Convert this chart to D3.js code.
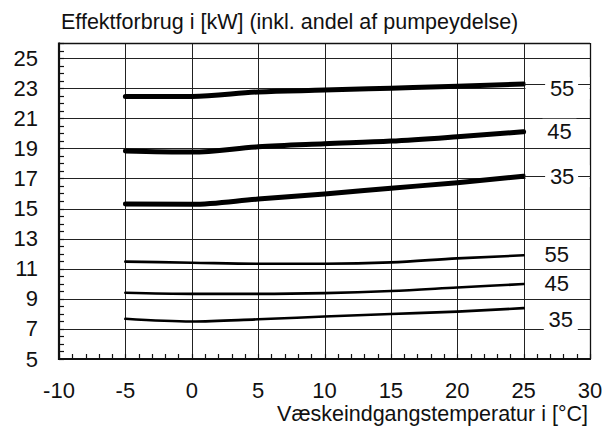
<!DOCTYPE html>
<html>
<head>
<meta charset="utf-8">
<script src="https://cdn.jsdelivr.net/npm/d3@7"></script>
<style>
  html, body { margin: 0; padding: 0; background: #fff; }
  svg { display: block; font-family: "Liberation Sans", Arial, sans-serif; }
</style>
</head>
<body>
<svg id="chart" width="606" height="433"></svg>
<script>
// Inlet temperature (°C) at which each curve is sampled
const inletTemps = [-5, 0, 5, 10, 15, 20, 25];

// Power consumption in kW (incl. pump share) per flow temperature
const highLoad55 = [22.45, 22.45, 22.75, 22.87, 23.0, 23.13, 23.27];
const highLoad45 = [18.82, 18.75, 19.1, 19.3, 19.48, 19.77, 20.1];
const highLoad35 = [15.3, 15.28, 15.63, 15.97, 16.35, 16.72, 17.15];
const lowLoad55 = [11.47, 11.4, 11.33, 11.33, 11.42, 11.69, 11.89];
const lowLoad45 = [9.4, 9.33, 9.33, 9.38, 9.52, 9.75, 9.98];
const lowLoad35 = [7.67, 7.49, 7.64, 7.82, 7.99, 8.15, 8.38];

// Curve labels: text, label centre (x, y in data units), leader level or null
const curveNames = ["55", "45", "35", "55", "45", "35"];
const labelX = [27.9, 27.7, 27.9, 27.5, 27.5, 27.8];
const labelY = [23.0, 20.1, 17.15, 11.95, 10.05, 7.6];
const leaderY = [23.27, null, 17.15, null, null, null];

// Axis ticks
const xTicks = [-10, -5, 0, 5, 10, 15, 20, 25, 30];
const yTicks = [5, 7, 9, 11, 13, 15, 17, 19, 21, 23, 25];

const titleText = "Effektforbrug i [kW] (inkl. andel af pumpeydelse)";
const xTitleText = "Væskeindgangstemperatur i [°C]";

const series = [
  { values: highLoad55, heavy: true },
  { values: highLoad45, heavy: true },
  { values: highLoad35, heavy: true },
  { values: lowLoad55, heavy: false },
  { values: lowLoad45, heavy: false },
  { values: lowLoad35, heavy: false }
];

const svg = d3.select("#chart");
const plotLeft = 59, plotRight = 590, plotTop = 43, plotBottom = 359;

const x = d3.scaleLinear().domain([-10, 30]).range([plotLeft, plotRight]);
const y = d3.scaleLinear().domain([5, 26]).range([plotBottom, plotTop]);
const px = v => Math.round(x(v)) + 0.5;
const py = v => Math.round(y(v)) + 0.5;

const ink = "#111";

// Grid
const grid = svg.append("g").attr("stroke", "#222").attr("stroke-width", 1);
grid.selectAll("line.h").data(yTicks.filter(d => d > 5)).join("line")
  .attr("x1", plotLeft).attr("x2", plotRight)
  .attr("y1", d => py(d)).attr("y2", d => py(d));
grid.selectAll("line.v").data(xTicks.filter(d => d > -10 && d < 30)).join("line")
  .attr("y1", plotTop).attr("y2", plotBottom)
  .attr("x1", d => px(d)).attr("x2", d => px(d));

// Minor ticks, pointing into the plot
const minorY = d3.range(5, 26.01, 0.5);
svg.append("g").attr("stroke", ink).attr("stroke-width", 1.2)
  .selectAll("line").data(minorY).join("line")
  .attr("x1", plotLeft).attr("x2", plotLeft + 5)
  .attr("y1", d => py(d)).attr("y2", d => py(d));
const minorX = d3.range(-10, 30.01, 1);
svg.append("g").attr("stroke", ink).attr("stroke-width", 1.2)
  .selectAll("line").data(minorX).join("line")
  .attr("y1", plotBottom).attr("y2", plotBottom - 5)
  .attr("x1", d => px(d)).attr("x2", d => px(d));

// Frame: heavier left/bottom axes, thin top/right border
svg.append("line").attr("x1", px(30)).attr("x2", px(30)).attr("y1", plotTop).attr("y2", plotBottom)
  .attr("stroke", ink).attr("stroke-width", 1.3);
svg.append("line").attr("x1", plotLeft).attr("x2", plotRight).attr("y1", py(26)).attr("y2", py(26))
  .attr("stroke", ink).attr("stroke-width", 1.3);
svg.append("line").attr("x1", plotLeft).attr("x2", plotLeft).attr("y1", plotTop - 0.5).attr("y2", plotBottom + 1)
  .attr("stroke", ink).attr("stroke-width", 2.2);
svg.append("line").attr("x1", plotLeft - 1).attr("x2", plotRight + 1).attr("y1", plotBottom).attr("y2", plotBottom)
  .attr("stroke", ink).attr("stroke-width", 2.2);

// Curves
const lineGen = d3.line()
  .x((d, i) => x(inletTemps[i]))
  .y(d => y(d))
  .curve(d3.curveMonotoneX);
svg.append("g").selectAll("path").data(series).join("path")
  .attr("d", d => lineGen(d.values))
  .attr("fill", "none")
  .attr("stroke", "#000")
  .attr("stroke-width", d => d.heavy ? 5 : 2.6)
  .attr("stroke-linecap", "round")
  .attr("stroke-linejoin", "round");

// Curve labels with white backing that breaks the grid
const labels = svg.append("g");
curveNames.forEach((name, i) => {
  const cx = x(labelX[i]), cy = y(labelY[i]);
  if (leaderY[i] !== null) {
    const ly = Math.round(y(leaderY[i])) + 0.5;
    labels.append("rect")
      .attr("x", px(25) + 1).attr("y", cy - 11)
      .attr("width", px(30) - px(25) - 2).attr("height", 22)
      .attr("fill", "#fff");
    labels.append("line").attr("x1", px(25)).attr("x2", cx - 17)
      .attr("y1", ly).attr("y2", ly)
      .attr("stroke", "#222").attr("stroke-width", 1);
    labels.append("line").attr("x1", cx + 16).attr("x2", px(30))
      .attr("y1", ly).attr("y2", ly)
      .attr("stroke", "#222").attr("stroke-width", 1);
  } else {
    labels.append("rect")
      .attr("x", cx - 17).attr("y", cy - 13)
      .attr("width", 34).attr("height", 26)
      .attr("fill", "#fff");
  }
  labels.append("text")
    .attr("x", cx).attr("y", cy)
    .attr("text-anchor", "middle")
    .attr("dominant-baseline", "central")
    .attr("font-size", 22)
    .attr("fill", ink)
    .text(name);
});

// Tick labels
svg.append("g").selectAll("text").data(yTicks).join("text")
  .attr("x", 38).attr("y", d => y(d))
  .attr("text-anchor", "end")
  .attr("dominant-baseline", "central")
  .attr("font-size", 22)
  .attr("fill", ink)
  .text(d => d);
svg.append("g").selectAll("text").data(xTicks).join("text")
  .attr("x", d => x(d)).attr("y", plotBottom + 39)
  .attr("text-anchor", "middle")
  .attr("font-size", 22)
  .attr("fill", ink)
  .text(d => d);

// Titles
svg.append("text")
  .attr("x", 61).attr("y", 29)
  .attr("font-size", 21.5)
  .attr("fill", ink)
  .text(titleText);
svg.append("text")
  .attr("x", 588).attr("y", 421)
  .attr("text-anchor", "end")
  .attr("font-size", 21.5)
  .attr("fill", ink)
  .text(xTitleText);
</script>
</body>
</html>
